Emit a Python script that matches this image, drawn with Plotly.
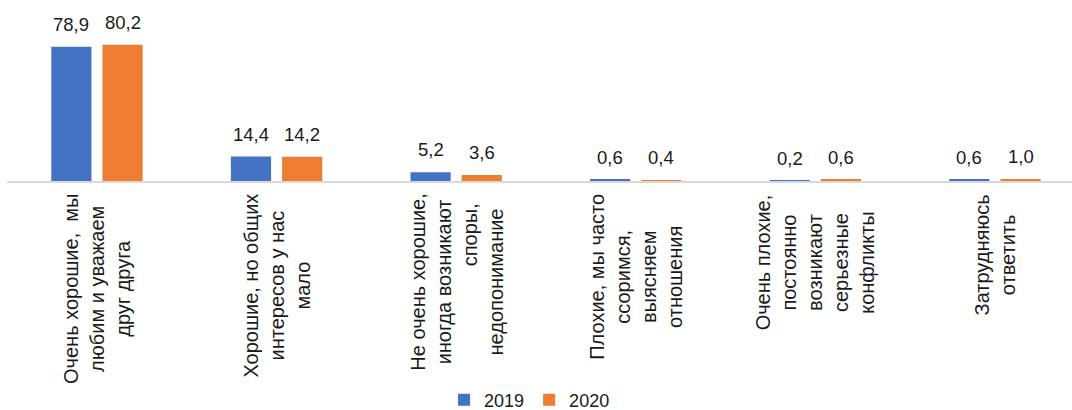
import plotly.graph_objects as go

categories = [
    "Очень хорошие,  мы<br>любим и уважаем<br>друг друга",
    "Хорошие, но общих<br>интересов у нас<br>мало",
    "Не очень хорошие,<br>иногда возникают<br>" + "\u00a0" * 17 + "споры,<br>недопонимание",
    "Плохие, мы часто<br>ссоримся,<br>выясняем<br>отношения",
    "Очень плохие,<br>постоянно<br>возникают<br>серьезные<br>конфликты",
    "Затрудняюсь<br>ответить",
]
keys = ["c1", "c2", "c3", "c4", "c5", "c6"]
series_names = ["2019", "2020"]
values_2019 = [78.9, 14.4, 5.2, 0.6, 0.2, 0.6]
values_2020 = [80.2, 14.2, 3.6, 0.4, 0.6, 1.0]
colors = ["#4472C4", "#ED7D31"]

FONT = "Arial, 'Liberation Sans', sans-serif"
TXT = "#1a1a1a"

fig = go.Figure()
for name, vals, col in zip(series_names, [values_2019, values_2020], colors):
    fig.add_trace(go.Bar(x=keys, y=vals, name=name, marker_color=col,
                         marker_line_width=0, hoverinfo="skip"))

annotations = []
for vals, shift in [(values_2019, -25.6), (values_2020, 25.6)]:
    for k, v in zip(keys, vals):
        annotations.append(dict(
            x=k, y=v, xref="x", yref="y", xshift=shift, yshift=22.5,
            yanchor="middle", xanchor="center", showarrow=False,
            text=f"{v:.1f}".replace(".", ","),
            font=dict(family=FONT, size=18.5, color=TXT)))
for k, lab in zip(keys, categories):
    annotations.append(dict(
        x=k, y=0, xref="x", yref="y", yanchor="top", xanchor="center",
        yshift=-11, textangle=-90, align="center", showarrow=False,
        text=lab, font=dict(family=FONT, size=20, color=TXT)))

fig.update_layout(
    width=1072, height=410,
    margin=dict(l=7, r=0, t=11, b=229, autoexpand=False),
    paper_bgcolor="white", plot_bgcolor="white",
    barmode="group", bargap=0.43, bargroupgap=0.215,
    font=dict(family=FONT, size=18, color=TXT),
    xaxis=dict(range=[-0.501, 5.429], showticklabels=False, ticks="",
               showline=True, linecolor="#D9D9D9", linewidth=2,
               showgrid=False, zeroline=False, fixedrange=True),
    yaxis=dict(range=[0, 100], visible=False, showgrid=False,
               zeroline=False, fixedrange=True),
    showlegend=True,
    legend=dict(orientation="h", xref="container", yref="container",
                x=0.494, xanchor="center", y=0.024, yanchor="middle",
                font=dict(family=FONT, size=18, color=TXT),
                itemwidth=30, tracegroupgap=0),
    annotations=annotations,
)

fig.write_html(
    "out.html",
    config={"displayModeBar": False},
    post_script="document.body.style.margin='0';document.body.style.overflow='hidden';",
)
